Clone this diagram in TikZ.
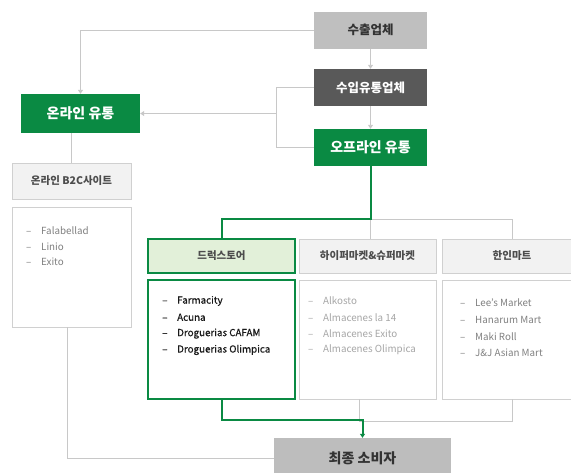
\documentclass[tikz,border=0pt]{standalone}
\usepackage{fontspec}
\setmainfont{Noto Sans CJK KR}
\usetikzlibrary{arrows.meta}
\definecolor{dgreen}{HTML}{0A8A43}
\definecolor{lgreen}{HTML}{E2F0D9}
\definecolor{connc}{HTML}{C8C8C8}
\definecolor{boxc}{HTML}{D0D0D0}
\definecolor{headc}{HTML}{F2F2F2}
\tikzset{
  mainbox/.style={minimum width=113pt, minimum height=37pt, inner sep=0pt, font=\bfseries\fontsize{12.5}{14}\selectfont},
  greenbox/.style={fill=dgreen, text=white, inner sep=0pt, font=\bfseries\fontsize{14}{16}\selectfont},
  headbox/.style={fill=headc, draw=boxc, minimum height=34pt, inner sep=0pt, text=black!70, font=\bfseries\fontsize{10.5}{12}\selectfont},
  listbox/.style={fill=white, draw=boxc, minimum height=119pt, inner sep=0pt},
  listitem/.style={anchor=west, inner sep=0pt, font=\fontsize{9.8}{11}\selectfont},
  conn/.style={draw=connc, line width=0.9pt},
  gline/.style={draw=dgreen, line width=2pt},
  tip/.style={-{Triangle[width=5pt,length=4pt]}}
}
\newcommand{\dashitem}[1]{\makebox[15pt][l]{–}#1}
\begin{document}
\begin{tikzpicture}[x=1pt, y=-1pt]
  \useasboundingbox (0,0) rectangle (571,472);
  % suppliers
  \node[mainbox, fill=black!25, text=black!80] (exp) at (370.5,30) {수출업체};
  \node[mainbox, fill=black!65, text=white] (imp) at (370.5,87.5) {수입유통업체};
  \node[greenbox, minimum width=113pt, minimum height=37pt] (off) at (370.5,147.5) {오프라인 유통};
  \node[greenbox, minimum width=119pt, minimum height=39pt] (on) at (80.5,113.5) {온라인 유통};
  % online side
  \node[headbox, minimum width=119pt, minimum height=36pt] (b2c) at (71.5,181) {온라인 B2C사이트};
  \node[listbox, minimum width=119pt, minimum height=120pt] (b2clist) at (71.5,267) {};
  % offline channels
  \node[headbox, fill=lgreen, draw=dgreen, line width=2pt, minimum width=147pt] (drug) at (221.5,256) {드럭스토어};
  \node[headbox, minimum width=137pt] (hyper) at (367.5,256) {하이퍼마켓\&슈퍼마켓};
  \node[headbox, minimum width=140pt] (kor) at (512,256) {한인마트};
  \node[listbox, draw=dgreen, line width=2pt, minimum width=147pt] (druglist) at (221.5,339.5) {};
  \node[listbox, minimum width=137pt] (hyperlist) at (367.5,339.5) {};
  \node[listbox, minimum width=140pt] (korlist) at (512,339.5) {};
  \node[mainbox, fill=black!26, text=black!80, minimum width=177pt, minimum height=40pt, font=\bfseries\fontsize{14}{16}\selectfont] (final) at (362.5,458) {최종 소비자};
  % list items
  \foreach \t [count=\i] in {Falabellad, Linio, Exito}
    \node[listitem, text=black!50] at (26,231+15.5*\i-15.5) {\dashitem{\t}};
  \foreach \t [count=\i] in {Farmacity, Acuna, Droguerias CAFAM, Droguerias Olimpica}
    \node[listitem, text=black!90] at (162,301+16.3*\i-16.3) {\addfontfeature{FakeBold=0.6}\dashitem{\t}};
  \foreach \t [count=\i] in {Alkosto, Almacenes la 14, Almacenes Exito, Almacenes Olimpica}
    \node[listitem, text=black!35] at (308,301+16.3*\i-16.3) {\dashitem{\t}};
  \foreach \t [count=\i] in {Lee's Market, Hanarum Mart, Maki Roll, J\&J Asian Mart}
    \node[listitem, text=black!50] at (460,303+16.7*\i-16.7) {\dashitem{\t}};
  % connectors
  \coordinate (br) at (276,0);
  \coordinate (split) at (370.5,219);
  \coordinate (gjoin) at (0,420);
  \coordinate (hjoin) at (0,421.5);
  \draw[conn, tip] (exp.west) -| (on.north);
  \draw[conn, tip] (exp) -- (imp);
  \draw[conn, tip] (imp) -- (off);
  \draw[conn] (imp.west) -- (imp.west -| br) |- (off.west);
  \draw[conn, tip] (br |- on.east) -- (on.east);
  \draw[conn] (b2c.north) -- (b2c.north |- on.south);
  \draw[conn] ([xshift=-4pt]b2clist.south) |- (final.west);
  \draw[conn] (split) -- (split |- hyper.north);
  \draw[conn] (split) -| (kor.north);
  \draw[conn] ([xshift=-8.5pt]hyperlist.south) |- (korlist.south |- hjoin) -- (korlist.south);
  \draw[gline] (off.south) -- (split) -| (drug.north);
  \draw[gline, tip] (druglist.south) |- (final.north |- gjoin) -- (final.north);
\end{tikzpicture}
\end{document}
